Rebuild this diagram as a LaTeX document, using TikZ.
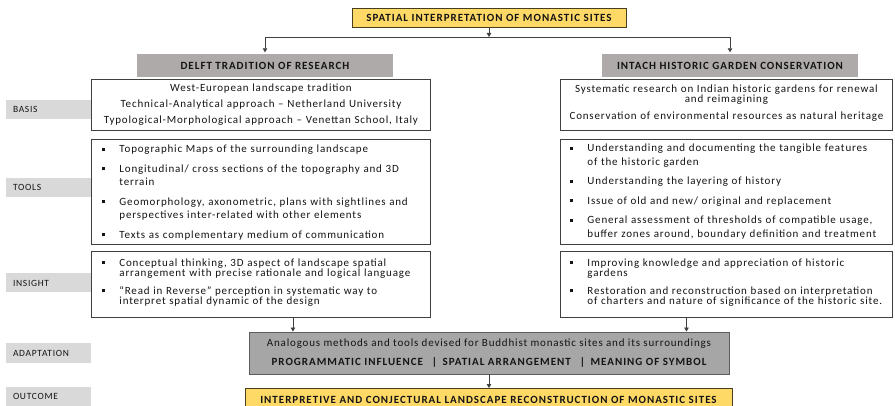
\documentclass[tikz,border=0pt]{standalone}
\usepackage{fontspec}
\setmainfont{Carlito}
\newfontfamily\msbody{Carlito}[LetterSpace=7.5]
\newfontfamily\mscaps{Carlito}[LetterSpace=9]
\usetikzlibrary{positioning,arrows.meta}
\definecolor{msyellow}{RGB}{255,217,102}
\definecolor{msyellowline}{RGB}{70,62,30}
\definecolor{msheadgray}{RGB}{174,170,170}
\definecolor{msside}{RGB}{217,217,217}
\definecolor{msadaptgray}{RGB}{166,166,166}
\definecolor{msline}{RGB}{64,64,64}
\definecolor{mstext}{RGB}{20,20,20}
\newcommand\msbullet{\makebox[22pt][l]{\hspace{4.5pt}\rule[2pt]{3.2pt}{3.2pt}}}
\newcommand\msitem[1]{\par\noindent\msbullet\mbox{#1}\par}
\newcommand\msitemm[2]{\par\noindent\hangindent=22pt\hangafter=1%
  \msbullet\mbox{#1}\hfil\break\mbox{#2}\par}
\newcommand\msgap{\vspace{6pt}}
\newcommand\mstight{\fontsize{11}{10.5}\selectfont\lineskiplimit=-20pt\relax}
\tikzset{
  msf/.style={font=\msbody\fontsize{11}{13.5}\selectfont, text=mstext},
  msbox/.style={msf, draw=msline, line width=0.9pt, fill=white,
    inner xsep=6pt, inner ysep=3pt},
  mshead/.style={font=\mscaps\fontsize{11}{13}\selectfont\bfseries, text=mstext,
    fill=msheadgray, minimum width=256pt, minimum height=23pt, inner sep=0pt},
  msside/.style={font=\msbody\fontsize{9.5}{11}\selectfont, text=mstext, fill=msside,
    text width=71pt, inner xsep=7pt, minimum height=19pt, inner ysep=0pt, align=left},
  msyel/.style={font=\mscaps\fontsize{11}{13}\selectfont\bfseries, text=mstext,
    fill=msyellow, draw=msyellowline, line width=0.9pt, inner sep=0pt},
  msadapt/.style={msf, fill=msadaptgray, draw=msline!85, line width=0.9pt,
    align=center, inner sep=0pt},
  msarr/.style={-{Triangle[length=4pt,width=4.5pt]}, line width=0.8pt, draw=msline},
}

\begin{document}
\begin{tikzpicture}[x=1pt, y=-1pt]
  \useasboundingbox (0,0) rectangle (895,406);

  % Titel en takken
  \node[msyel, minimum width=274pt, minimum height=19pt] (top) at (489,17.5)
    {SPATIAL INTERPRETATION OF MONASTIC SITES};
  \node[mshead] (hdelft) at (265,65.5) {DELFT TRADITION OF RESEARCH};
  \node[mshead] (hintach) at (730,65.5) {INTACH HISTORIC GARDEN CONSERVATION};

  % Basis
  \node[msbox, text width=327pt, minimum height=51pt, align=center, anchor=north west]
    (basisL) at (91,79) {West-European landscape tradition\\[2.5pt]
      Technical-Analytical approach – Netherland University\\[2.5pt]
      Typological-Morphological approach – Venettan School, Italy};
  \node[msbox, text width=322pt, inner xsep=5pt, minimum height=51pt, align=center, anchor=north west]
    (basisR) at (560,79) {Systematic research on Indian historic gardens for renewal\\[-3.5pt]
      and reimagining\\[4pt]
      Conservation of environmental resources as natural heritage\par\vspace{4pt}};

  % Tools
  \node[msbox, text width=327pt, minimum height=105pt, align=left, below=8pt of basisL]
    (toolsL) {\vspace{-4pt}\msitem{Topographic Maps of the surrounding landscape}\msgap
      \msitemm{Longitudinal/ cross sections of the topography and 3D}{terrain}\msgap
      \msitemm{Geomorphology, axonometric, plans with sightlines and}{perspectives inter-related with other elements}\msgap
      \msitem{Texts as complementary medium of communication}};
  \node[msbox, text width=322pt, inner xsep=5pt, minimum height=105pt, align=left, below=8pt of basisR]
    (toolsR) {\vspace{-6pt}\msitemm{Understanding and documenting the tangible features}{of the historic garden}\msgap
      \msitem{Understanding the layering of history}\msgap
      \msitem{Issue of old and new/ original and replacement}\msgap
      \msitemm{General assessment of thresholds of compatible usage,}{buffer zones around, boundary definition and treatment}};

  % Insight
  \node[msbox, text width=327pt, minimum height=66pt, align=left, below=6pt of toolsL]
    (insL) {\vspace{-6pt}\mstight\msitemm{Conceptual thinking, 3D aspect of landscape spatial}{arrangement with precise rationale and logical language}\vspace{7pt}
      \msitemm{“Read in Reverse” perception in systematic way to}{interpret spatial dynamic of the design}};
  \node[msbox, text width=322pt, inner xsep=5pt, minimum height=66pt, align=left, below=6pt of toolsR]
    (insR) {\vspace{-6pt}\mstight\msitemm{Improving knowledge and appreciation of historic}{gardens}\vspace{7pt}
      \msitemm{Restoration and reconstruction based on interpretation}{of charters and nature of significance of the historic site.}};

  % Adaptation en outcome
  \node[msadapt, minimum width=480pt, minimum height=42pt] (adapt) at (489,353)
    {Analogous methods and tools devised for Buddhist monastic sites and its surroundings\\[6pt]
     {\mscaps\bfseries PROGRAMMATIC INFLUENCE \enspace|\enspace SPATIAL ARRANGEMENT \enspace|\enspace MEANING OF SYMBOL}};
  \node[msyel, minimum width=487pt, minimum height=22pt, anchor=north] (outc) at (488.5,388)
    {INTERPRETIVE AND CONJECTURAL LANDSCAPE RECONSTRUCTION OF MONASTIC SITES};

  % Zijlabels
  \node[msside] (lbasis) at (48.5,109.5) {BASIS};
  \node[msside] (ltools) at (48.5,187.5) {TOOLS};
  \node[msside] (linsight) at (48.5,283) {INSIGHT};
  \node[msside] (ladapt) at (48.5,353) {ADAPTATION};
  \node[msside] (loutc) at (48.5,396.5) {OUTCOME};

  % Pijlen
  \coordinate (bus) at (489,37);
  \draw[msarr] (top) -- (bus);
  \draw[line width=0.8pt, draw=msline] (hdelft |- bus) -- (hintach |- bus);
  \draw[msarr, shorten >=1.5pt] (hdelft |- bus) -- (hdelft);
  \draw[msarr, shorten >=1.5pt] (hintach |- bus) -- (hintach);
  \draw[msarr] ([xshift=32pt]insL.south) -- ([xshift=32pt]insL.south |- adapt.north);
  \draw[msarr] ([xshift=-40pt]insR.south) -- ([xshift=-40pt]insR.south |- adapt.north);
  \draw[msarr] (adapt.south) -- (adapt.south |- outc.north);
\end{tikzpicture}
\end{document}
